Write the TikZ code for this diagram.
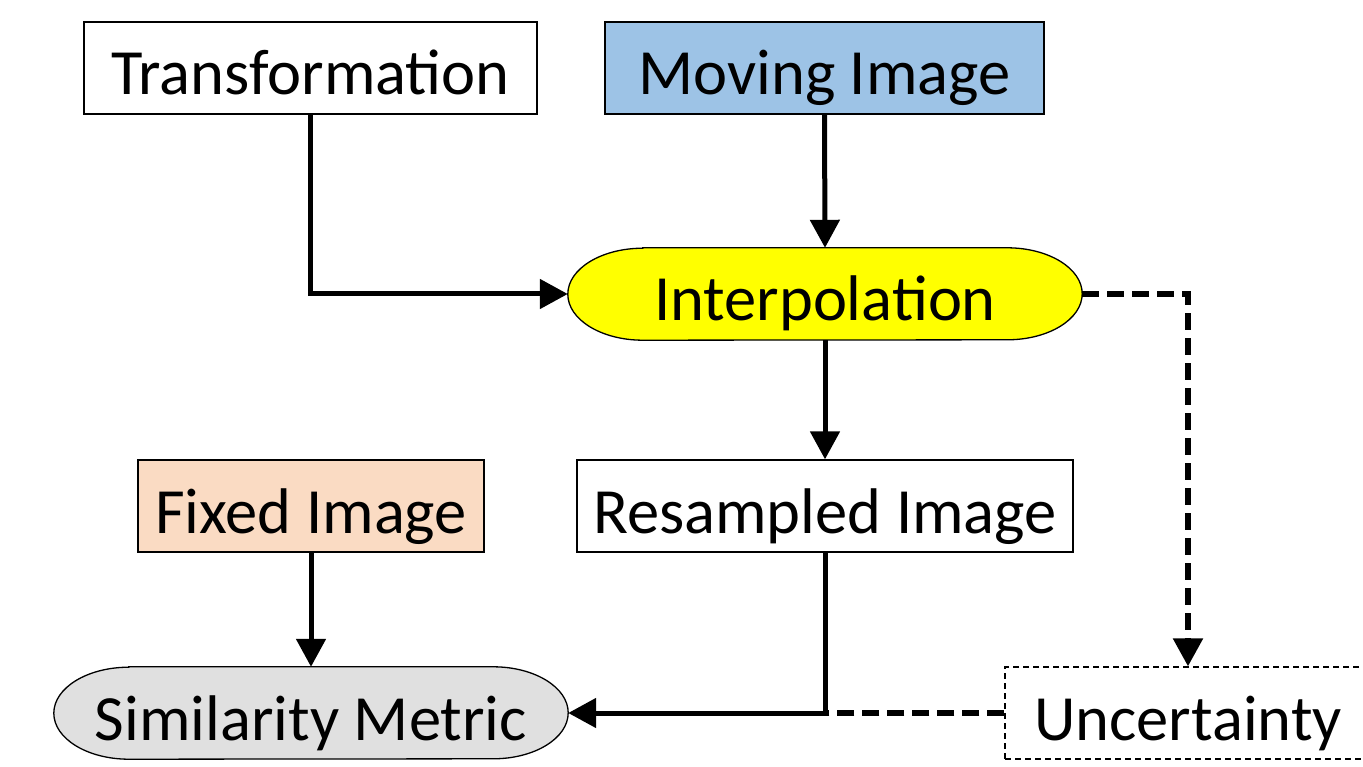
\documentclass[tikz,border=0pt]{standalone}
\usepackage{fontspec}
\setmainfont{Carlito}
\usetikzlibrary{arrows.meta,backgrounds,calc}

\definecolor{movingblue}{HTML}{9DC3E6}
\definecolor{fixedpeach}{HTML}{FADBC3}
\definecolor{interpyellow}{HTML}{FFFF00}
\definecolor{metricgrey}{HTML}{E0E0E0}

\tikzset{
  label text/.style={inner sep=0pt, minimum height=92pt, text height=54pt, text depth=0pt,
    font=\fontsize{64.5}{70}\selectfont},
  box/.style={label text, draw=black, line width=1.3pt},
  pill/.style={label text},
  dashbox/.style={label text, draw=black, line width=1.3pt, dash pattern=on 6pt off 4pt},
  conn/.style={line width=5pt, -{Triangle[length=28pt,width=29pt]}},
  dconn/.style={conn, line width=5.5pt, dash pattern=on 17pt off 8pt},
  dline/.style={line width=5.5pt, dash pattern=on 17pt off 8pt},
}

% rounded terminator outline with elliptical ends, drawn behind a node
\newcommand\pillshape[3]{%
  \begin{scope}[on background layer]
    \filldraw[fill=#2, draw=black, line width=1.3pt]
      ($(#1.north west)+(#3,0)$) -- ($(#1.north east)+(-#3,0)$)
      arc[start angle=90, end angle=-90, x radius=#3 pt, y radius=46pt]
      -- ($(#1.south west)+(#3,0)$)
      arc[start angle=270, end angle=90, x radius=#3 pt, y radius=46pt]
      -- cycle;
  \end{scope}}

\begin{document}
\begin{tikzpicture}[x=1pt, y=-1pt]
  \useasboundingbox (0,0) rectangle (1363,767);

  \node[box, minimum width=453pt] (trans) at (310.5,68) {Transformation};
  \node[box, fill=movingblue, minimum width=439pt] (moving) at (824.5,68) {Moving Image};
  \node[pill, minimum width=514pt] (interp) at (825,294) {Interpolation};
  \pillshape{interp}{interpyellow}{75}
  \node[box, minimum width=496pt] (resamp) at (825,506) {Resampled Image};
  \node[box, fill=fixedpeach, minimum width=346pt] (fixed) at (311,506) {Fixed Image};
  \node[pill, minimum width=514pt] (sim) at (311,713) {Similarity Metric};
  \pillshape{sim}{metricgrey}{75}
  \node[dashbox, minimum width=366pt] (unc) at (1188,713) {Uncertainty};

  \draw[conn] (trans.south) |- (interp.west);
  \draw[conn] (moving.south) -- (interp.north);
  \draw[conn] (interp.south) -- (resamp.north);
  \draw[dconn] (interp.east) -| (unc.north);
  \draw[conn] (fixed.south) -- (sim.north);
  \draw[conn] (resamp.south) |- (sim.east);
  \draw[dline] (unc.west) -- (resamp.south |- unc.west);
\end{tikzpicture}
\end{document}
